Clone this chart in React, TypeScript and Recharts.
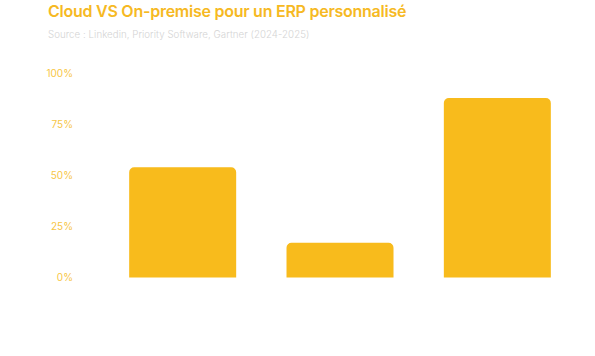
import React from 'react';
import { BarChart, Bar, XAxis, YAxis } from 'recharts';

const categories = ['Cloud', 'On-premise', 'Hybride'];
const values = [54, 17, 88];
const yTicks = [0, 25, 50, 75, 100];
const title = 'Cloud VS On-premise pour un ERP personnalisé';
const subtitle = 'Source : Linkedin, Priority Software, Gartner (2024-2025)';

const data = categories.map((c, i) => ({ name: c, value: values[i] }));

export default function App() {
  return (
    <div style={{ position: 'absolute', left: 0, top: 0, width: 595, height: 356, background: '#fff', fontFamily: 'Inter, sans-serif' }}>
      <div style={{ position: 'absolute', left: 48, top: 1, fontSize: 16, fontWeight: 600, color: '#F6B923', whiteSpace: 'nowrap', letterSpacing: -0.25 }}>{title}</div>
      <div style={{ position: 'absolute', left: 48, top: 29, fontSize: 9.7, fontWeight: 300, color: '#D4D4D4', whiteSpace: 'nowrap', letterSpacing: 0.05 }}>{subtitle}</div>
      <BarChart width={595} height={356} data={data} margin={{ top: 73.5, right: 19, bottom: 78.5, left: 0 }} barCategoryGap="16%">
        <XAxis dataKey="name" hide />
        <YAxis
          domain={[0, 100]}
          ticks={yTicks}
          width={104}
          axisLine={false}
          tickLine={false}
          tickSize={0}
          tickMargin={31}
          tickFormatter={(v: number) => `${v}%`}
          tick={{ fill: '#F7C645', fontSize: 10, fontFamily: 'Inter, sans-serif' }}
        />
        <Bar dataKey="value" fill="#F8BB1C" radius={[5, 5, 0, 0]} isAnimationActive={false} />
      </BarChart>
    </div>
  );
}
